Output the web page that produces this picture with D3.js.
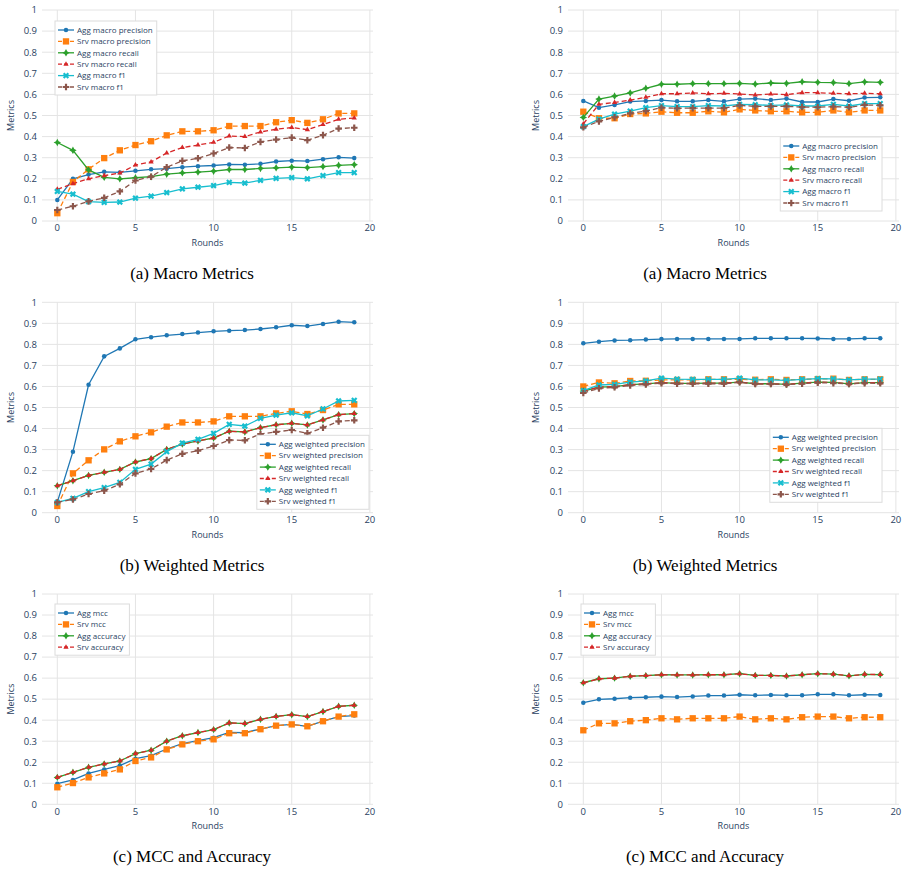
<!DOCTYPE html>
<meta charset="utf-8">
<style>
  body { margin: 0; background: #fff; }
  svg { font-family: "Open Sans", sans-serif; }
  .grid line { stroke: #e4e4e4; stroke-width: 1px; }
  .tick-label { fill: #2a3f5f; font-size: 9.5px; }
  .axis-title { fill: #2a3f5f; font-size: 9px; }
  .legend-box { fill: #fff; stroke: #dcdcdc; stroke-width: 1px; }
  .legend-text { fill: #2a3f5f; font-size: 8px; }
  .caption { font-family: "Liberation Serif", "Times New Roman", serif; font-size: 17px; fill: #000; }
</style>
<svg width="908" height="873"></svg>
<script src="https://cdnjs.cloudflare.com/ajax/libs/d3/7.8.5/d3.min.js"></script>
<script>
  // ---- data ----
  var rounds = [0, 1, 2, 3, 4, 5, 6, 7, 8, 9, 10, 11, 12, 13, 14, 15, 16, 17, 18, 19];
  var xTicks = [0, 5, 10, 15, 20];
  var yTicks = [0, 0.1, 0.2, 0.3, 0.4, 0.5, 0.6, 0.7, 0.8, 0.9, 1];
  var yTickLabels = ["0", "0.1", "0.2", "0.3", "0.4", "0.5", "0.6", "0.7", "0.8", "0.9", "1"];

  var macroNames = ["Agg macro precision", "Srv macro precision", "Agg macro recall", "Srv macro recall", "Agg macro f1", "Srv macro f1"];
  var weightedNames = ["Agg weighted precision", "Srv weighted precision", "Agg weighted recall", "Srv weighted recall", "Agg weighted f1", "Srv weighted f1"];
  var mccNames = ["Agg mcc", "Srv mcc", "Agg accuracy", "Srv accuracy"];
  var captions = ["(a) Macro Metrics", "(b) Weighted Metrics", "(c) MCC and Accuracy"];

  // left column
  var aggMacroPrecisionL = [0.10, 0.20, 0.22, 0.233, 0.23, 0.238, 0.245, 0.248, 0.255, 0.26, 0.263, 0.268, 0.267, 0.271, 0.282, 0.286, 0.284, 0.293, 0.302, 0.298];
  var srvMacroPrecisionL = [0.037, 0.185, 0.245, 0.298, 0.335, 0.36, 0.378, 0.406, 0.425, 0.425, 0.43, 0.45, 0.45, 0.45, 0.468, 0.478, 0.465, 0.482, 0.51, 0.51];
  var aggMacroRecallL = [0.372, 0.335, 0.242, 0.207, 0.2, 0.205, 0.21, 0.222, 0.228, 0.232, 0.236, 0.244, 0.244, 0.249, 0.252, 0.255, 0.253, 0.258, 0.264, 0.267];
  var srvMacroRecallL = [0.15, 0.177, 0.2, 0.215, 0.227, 0.265, 0.28, 0.322, 0.348, 0.36, 0.373, 0.403, 0.4, 0.422, 0.435, 0.443, 0.433, 0.457, 0.482, 0.488];
  var aggMacroF1L = [0.14, 0.127, 0.092, 0.088, 0.09, 0.108, 0.118, 0.135, 0.152, 0.16, 0.168, 0.183, 0.18, 0.193, 0.202, 0.206, 0.2, 0.215, 0.229, 0.229];
  var srvMacroF1L = [0.052, 0.07, 0.093, 0.11, 0.14, 0.192, 0.21, 0.255, 0.285, 0.297, 0.32, 0.348, 0.346, 0.375, 0.386, 0.395, 0.383, 0.407, 0.438, 0.442];

  var aggWeightedPrecisionL = [0.05, 0.29, 0.608, 0.743, 0.781, 0.824, 0.834, 0.843, 0.849, 0.856, 0.862, 0.865, 0.868, 0.873, 0.881, 0.891, 0.887, 0.897, 0.908, 0.905];
  var srvWeightedPrecisionL = [0.032, 0.187, 0.249, 0.301, 0.339, 0.363, 0.382, 0.409, 0.429, 0.429, 0.434, 0.458, 0.458, 0.458, 0.472, 0.482, 0.469, 0.488, 0.515, 0.515];
  var aggWeightedRecallL = [0.128, 0.152, 0.177, 0.192, 0.206, 0.241, 0.257, 0.301, 0.326, 0.341, 0.355, 0.387, 0.384, 0.404, 0.418, 0.425, 0.417, 0.441, 0.466, 0.471];
  var srvWeightedRecallL = [0.128, 0.152, 0.177, 0.192, 0.206, 0.241, 0.257, 0.301, 0.326, 0.341, 0.355, 0.387, 0.384, 0.404, 0.418, 0.425, 0.417, 0.441, 0.466, 0.471];
  var aggWeightedF1L = [0.049, 0.068, 0.1, 0.119, 0.144, 0.206, 0.231, 0.29, 0.331, 0.349, 0.377, 0.42, 0.412, 0.448, 0.464, 0.475, 0.46, 0.493, 0.531, 0.534];
  var srvWeightedF1L = [0.049, 0.063, 0.089, 0.105, 0.135, 0.187, 0.208, 0.25, 0.28, 0.295, 0.317, 0.345, 0.344, 0.374, 0.384, 0.393, 0.377, 0.404, 0.434, 0.439];

  var aggMccL = [0.098, 0.116, 0.147, 0.166, 0.184, 0.217, 0.231, 0.263, 0.288, 0.303, 0.317, 0.342, 0.341, 0.358, 0.374, 0.38, 0.371, 0.395, 0.417, 0.422];
  var srvMccL = [0.081, 0.101, 0.128, 0.147, 0.166, 0.206, 0.223, 0.261, 0.285, 0.3, 0.309, 0.338, 0.338, 0.357, 0.374, 0.38, 0.371, 0.395, 0.417, 0.428];
  var aggAccuracyL = [0.128, 0.152, 0.176, 0.192, 0.206, 0.241, 0.257, 0.3, 0.326, 0.341, 0.355, 0.387, 0.384, 0.404, 0.418, 0.426, 0.417, 0.441, 0.466, 0.471];
  var srvAccuracyL = [0.128, 0.152, 0.176, 0.192, 0.206, 0.241, 0.257, 0.3, 0.326, 0.341, 0.355, 0.387, 0.384, 0.404, 0.418, 0.426, 0.417, 0.441, 0.466, 0.471];

  // right column
  var aggMacroPrecisionR = [0.569, 0.537, 0.55, 0.566, 0.569, 0.573, 0.567, 0.567, 0.573, 0.567, 0.578, 0.58, 0.573, 0.58, 0.564, 0.564, 0.578, 0.57, 0.585, 0.586];
  var srvMacroPrecisionR = [0.518, 0.487, 0.487, 0.507, 0.51, 0.518, 0.513, 0.513, 0.52, 0.515, 0.529, 0.524, 0.52, 0.52, 0.515, 0.515, 0.524, 0.515, 0.524, 0.524];
  var aggMacroRecallR = [0.491, 0.578, 0.592, 0.607, 0.629, 0.648, 0.648, 0.651, 0.651, 0.651, 0.652, 0.649, 0.654, 0.652, 0.66, 0.657, 0.656, 0.651, 0.659, 0.657];
  var srvMacroRecallR = [0.46, 0.553, 0.562, 0.573, 0.586, 0.603, 0.603, 0.607, 0.603, 0.605, 0.602, 0.597, 0.602, 0.599, 0.608, 0.608, 0.605, 0.603, 0.605, 0.603];
  var aggMacroF1R = [0.447, 0.483, 0.506, 0.521, 0.537, 0.547, 0.542, 0.542, 0.547, 0.545, 0.553, 0.551, 0.548, 0.55, 0.545, 0.545, 0.553, 0.545, 0.556, 0.556];
  var srvMacroF1R = [0.444, 0.472, 0.491, 0.51, 0.521, 0.537, 0.534, 0.535, 0.535, 0.535, 0.548, 0.543, 0.543, 0.543, 0.54, 0.539, 0.542, 0.539, 0.55, 0.548];

  var aggWeightedPrecisionR = [0.805, 0.813, 0.819, 0.82, 0.823, 0.825, 0.826, 0.826, 0.826, 0.826, 0.826, 0.829, 0.829, 0.829, 0.829, 0.828, 0.826, 0.826, 0.829, 0.829];
  var srvWeightedPrecisionR = [0.6, 0.619, 0.615, 0.626, 0.627, 0.631, 0.631, 0.631, 0.634, 0.634, 0.634, 0.632, 0.634, 0.631, 0.634, 0.635, 0.637, 0.631, 0.634, 0.634];
  var aggWeightedRecallR = [0.578, 0.597, 0.599, 0.609, 0.612, 0.618, 0.615, 0.615, 0.616, 0.616, 0.621, 0.613, 0.613, 0.61, 0.616, 0.621, 0.619, 0.612, 0.618, 0.618];
  var srvWeightedRecallR = [0.578, 0.597, 0.599, 0.609, 0.612, 0.618, 0.615, 0.615, 0.616, 0.616, 0.621, 0.613, 0.613, 0.61, 0.616, 0.621, 0.619, 0.612, 0.618, 0.618];
  var aggWeightedF1R = [0.58, 0.607, 0.61, 0.621, 0.627, 0.64, 0.635, 0.634, 0.634, 0.634, 0.64, 0.631, 0.631, 0.629, 0.634, 0.637, 0.636, 0.631, 0.635, 0.635];
  var srvWeightedF1R = [0.569, 0.591, 0.596, 0.605, 0.61, 0.616, 0.613, 0.613, 0.613, 0.613, 0.62, 0.612, 0.612, 0.609, 0.613, 0.618, 0.616, 0.612, 0.616, 0.615];

  var aggMccR = [0.483, 0.499, 0.502, 0.507, 0.509, 0.512, 0.51, 0.513, 0.517, 0.517, 0.521, 0.518, 0.52, 0.518, 0.518, 0.523, 0.523, 0.518, 0.521, 0.52];
  var srvMccR = [0.352, 0.385, 0.385, 0.395, 0.4, 0.409, 0.404, 0.409, 0.409, 0.409, 0.417, 0.404, 0.409, 0.404, 0.414, 0.417, 0.417, 0.409, 0.414, 0.414];
  var aggAccuracyR = [0.578, 0.597, 0.6, 0.609, 0.612, 0.616, 0.615, 0.615, 0.616, 0.616, 0.621, 0.613, 0.613, 0.61, 0.616, 0.621, 0.619, 0.611, 0.618, 0.617];
  var srvAccuracyR = [0.578, 0.597, 0.6, 0.609, 0.612, 0.616, 0.615, 0.615, 0.616, 0.616, 0.621, 0.613, 0.613, 0.61, 0.616, 0.621, 0.619, 0.611, 0.618, 0.617];

  // ---- styles of the traces, in legend order ----
  var star4 = {
    draw: function(ctx, size) {
      var r = Math.sqrt(size) * 0.62, q = r * 0.36;
      ctx.moveTo(0, -r); ctx.lineTo(q, -q); ctx.lineTo(r, 0); ctx.lineTo(q, q);
      ctx.lineTo(0, r); ctx.lineTo(-q, q); ctx.lineTo(-r, 0); ctx.lineTo(-q, -q);
      ctx.closePath();
    }
  };
  var times = {
    draw: function(ctx, size) {
      var r = Math.sqrt(size) * 0.5;
      ctx.moveTo(-r, -r); ctx.lineTo(r, r);
      ctx.moveTo(r, -r); ctx.lineTo(-r, r);
    }
  };
  var styles = [
    { color: "#1f77b4", dash: null, symbol: d3.symbolCircle, size: 16 },
    { color: "#ff7f0e", dash: "5,3", symbol: d3.symbolSquare, size: 40 },
    { color: "#2ca02c", dash: null, symbol: star4, size: 36 },
    { color: "#d62728", dash: "5,3", symbol: d3.symbolTriangle, size: 12 },
    { color: "#17becf", dash: null, symbol: times, size: 22, strokeW: 2.2 },
    { color: "#8c564b", dash: "5,3", symbol: d3.symbolCross, size: 24 }
  ];

  var cols = [
    { left: 42, right: 373, titleX: 11, captionX: 192 },
    { left: 568, right: 899, titleX: 536, captionX: 705 }
  ];
  var rows = [
    { top: 10, bottom: 221 },
    { top: 302.3, bottom: 512.7 },
    { top: 594, bottom: 804.3 }
  ];

  var panels = [
    { row: 0, col: 0, names: macroNames, series: [aggMacroPrecisionL, srvMacroPrecisionL, aggMacroRecallL, srvMacroRecallL, aggMacroF1L, srvMacroF1L], legend: { side: "left", dx: 13, dy: 11 } },
    { row: 0, col: 1, names: macroNames, series: [aggMacroPrecisionR, srvMacroPrecisionR, aggMacroRecallR, srvMacroRecallR, aggMacroF1R, srvMacroF1R], legend: { side: "right", dx: 17, dy: 127 } },
    { row: 1, col: 0, names: weightedNames, series: [aggWeightedPrecisionL, srvWeightedPrecisionL, aggWeightedRecallL, srvWeightedRecallL, aggWeightedF1L, srvWeightedF1L], legend: { side: "right", dx: 4, dy: 133 } },
    { row: 1, col: 1, names: weightedNames, series: [aggWeightedPrecisionR, srvWeightedPrecisionR, aggWeightedRecallR, srvWeightedRecallR, aggWeightedF1R, srvWeightedF1R], legend: { side: "right", dx: 17, dy: 126 } },
    { row: 2, col: 0, names: mccNames, series: [aggMccL, srvMccL, aggAccuracyL, srvAccuracyL], legend: { side: "left", dx: 13, dy: 10 } },
    { row: 2, col: 1, names: mccNames, series: [aggMccR, srvMccR, aggAccuracyR, srvAccuracyR], legend: { side: "left", dx: 13, dy: 10 } }
  ];

  var svg = d3.select("svg");

  function markerPath(st) {
    return d3.symbol().type(st.symbol).size(st.size)();
  }

  function styleMarker(sel, st) {
    if (st.strokeW) {
      sel.attr("fill", "none").attr("stroke", st.color).attr("stroke-width", st.strokeW);
    } else {
      sel.attr("fill", st.color).attr("stroke", "none");
    }
  }

  panels.forEach(function(p) {
    var c = cols[p.col], r = rows[p.row];
    var x = d3.scaleLinear().domain([-0.98, 20.2]).range([c.left, c.right]);
    var y = d3.scaleLinear().domain([0, 1]).range([r.bottom, r.top]);
    var g = svg.append("g");

    // grid
    var grid = g.append("g").attr("class", "grid");
    grid.selectAll(".hy").data(yTicks).enter().append("line")
      .attr("x1", c.left).attr("x2", c.right)
      .attr("y1", function(d) { return y(d); }).attr("y2", function(d) { return y(d); });
    grid.selectAll(".vx").data(xTicks).enter().append("line")
      .attr("x1", function(d) { return x(d); }).attr("x2", function(d) { return x(d); })
      .attr("y1", r.top).attr("y2", r.bottom);

    // tick labels
    g.selectAll(".yl").data(yTicks).enter().append("text")
      .attr("class", "tick-label")
      .attr("x", c.left - 5).attr("y", function(d) { return y(d); })
      .attr("dy", "0.35em").attr("text-anchor", "end")
      .text(function(d, i) { return yTickLabels[i]; });
    g.selectAll(".xl").data(xTicks).enter().append("text")
      .attr("class", "tick-label")
      .attr("x", function(d) { return x(d); }).attr("y", r.bottom + 7)
      .attr("dy", "0.35em").attr("text-anchor", "middle")
      .text(function(d) { return d; });

    // axis titles
    g.append("text").attr("class", "axis-title")
      .attr("transform", "translate(" + c.titleX + "," + ((r.top + r.bottom) / 2) + ") rotate(-90)")
      .attr("dy", "0.35em").attr("text-anchor", "middle").text("Metrics");
    g.append("text").attr("class", "axis-title")
      .attr("x", (c.left + c.right) / 2).attr("y", r.bottom + 22)
      .attr("dy", "0.35em").attr("text-anchor", "middle").text("Rounds");

    // traces
    var line = d3.line().x(function(d, i) { return x(rounds[i]); }).y(function(d) { return y(d); });
    p.series.forEach(function(vals, k) {
      var st = styles[k];
      g.append("path").datum(vals)
        .attr("d", line)
        .attr("fill", "none")
        .attr("stroke", st.color)
        .attr("stroke-width", 1.3)
        .attr("stroke-dasharray", st.dash);
      var m = g.selectAll(".m" + k).data(vals).enter().append("path")
        .attr("d", markerPath(st))
        .attr("transform", function(d, i) { return "translate(" + x(rounds[i]) + "," + y(d) + ")"; });
      styleMarker(m, st);
    });

    // legend
    var lg = g.append("g");
    var box = lg.append("rect").attr("class", "legend-box");
    var rowH = 11.4, w = 0;
    p.names.forEach(function(name, k) {
      var st = styles[k], yy = 9 + k * rowH;
      lg.append("line").attr("x1", 3).attr("x2", 19).attr("y1", yy).attr("y2", yy)
        .attr("stroke", st.color).attr("stroke-width", 1.3).attr("stroke-dasharray", st.dash ? "4,2" : null);
      var mk = lg.append("path").attr("d", markerPath(st)).attr("transform", "translate(11," + yy + ")");
      styleMarker(mk, st);
      var t = lg.append("text").attr("class", "legend-text").attr("x", 22).attr("y", yy)
        .attr("dy", "0.35em").text(name);
      w = Math.max(w, t.node().getComputedTextLength());
    });
    var bw = 22 + w + 4, bh = 9 + (p.names.length - 1) * rowH + 8;
    box.attr("x", 0).attr("y", 0).attr("width", bw).attr("height", bh);
    var lx = p.legend.side === "left" ? c.left + p.legend.dx : c.right - p.legend.dx - bw;
    lg.attr("transform", "translate(" + lx + "," + (r.top + p.legend.dy) + ")");

    // caption
    svg.append("text").attr("class", "caption")
      .attr("x", c.captionX).attr("y", r.bottom + 52)
      .attr("dy", "0.35em").attr("text-anchor", "middle")
      .text(captions[p.row]);
  });
</script>
